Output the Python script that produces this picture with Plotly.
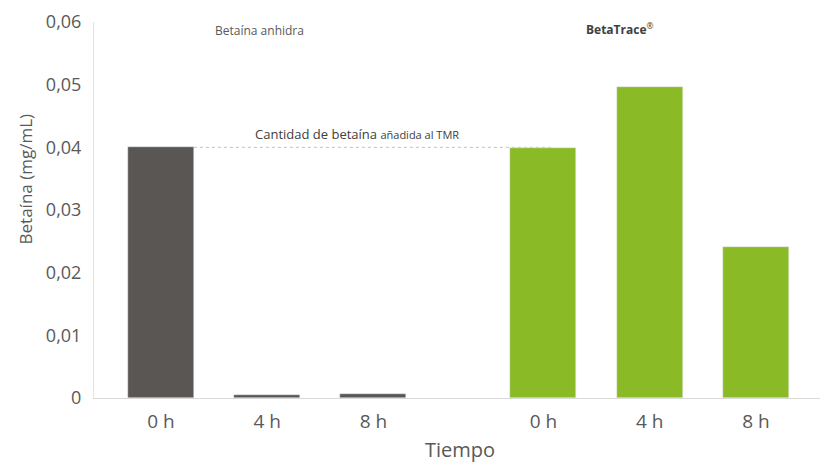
import plotly.graph_objects as go

# Datos
etiquetas = ['0 h', '4 h', '8 h', '0 h', '4 h', '8 h']
pos_anhidra = [0, 1, 2]
pos_betatrace = [3.6, 4.6, 5.6]
betaina_anhidra = [0.040, 0.0005, 0.0007]
betaina_betatrace = [0.0399, 0.0497, 0.0241]
nivel_tmr = 0.04

gris = '#595654'
verde = '#8aba26'
texto = '#595959'

fig = go.Figure()
fig.add_trace(go.Bar(x=pos_anhidra, y=betaina_anhidra, marker_color=gris,
                     width=0.62, name='Betaína anhidra'))
fig.add_trace(go.Bar(x=pos_betatrace, y=betaina_betatrace, marker_color=verde,
                     width=0.62, name='BetaTrace®'))

# línea discontinua: cantidad añadida al TMR
fig.add_shape(type='line', xref='x', yref='y', x0=0.31, x1=3.7, y0=nivel_tmr, y1=nivel_tmr,
              line=dict(color='#c0c0c0', width=1, dash='dot'), layer='below')
fig.add_annotation(x=1.85, y=nivel_tmr, xref='x', yref='y', yshift=13, showarrow=False,
                   text='Cantidad de betaína <span style="font-size:11px">añadida al TMR</span>',
                   font=dict(size=13, color='#404040'))

fig.add_annotation(x=0.93, y=1.0, xref='x', yref='paper', yshift=2, showarrow=False,
                   text='Betaína anhidra', font=dict(size=12, color=texto))
fig.add_annotation(x=4.32, y=1.0, xref='x', yref='paper', yshift=4, showarrow=False,
                   text='<b>BetaTrace</b><sup>®</sup>', font=dict(size=12, color='#404040'))

# título del eje y como anotación (va algo más arriba que el centro)
fig.add_annotation(x=-0.112, y=0.58, xref='paper', yref='paper', showarrow=False,
                   textangle=-90, text='Betaína (mg/mL)', font=dict(size=17, color=texto))

# la página deja 8 px de margen, así que la figura es algo menor que la ventana
fig.update_layout(
    width=820, height=458,
    margin=dict(l=86, r=2, t=14, b=68),
    plot_bgcolor='white', paper_bgcolor='white',
    showlegend=False,
    font=dict(family='Open Sans', color=texto),
    bargap=0,
)
fig.update_xaxes(
    tickmode='array', tickvals=pos_anhidra + pos_betatrace, ticktext=etiquetas,
    range=[-0.63, 6.26], showgrid=False, showline=True, linecolor='#d9d9d9',
    ticks='', tickfont=dict(size=19, color=texto), automargin=False, ticklabelstandoff=6,
    title=dict(text='Tiempo', font=dict(size=20, color=texto), standoff=10),
)
fig.update_yaxes(
    range=[0, 0.06], showgrid=False,
    showline=True, linecolor='#e3e3e3', zeroline=False,
    tickvals=[0, 0.01, 0.02, 0.03, 0.04, 0.05, 0.06],
    ticktext=['0', '0,01', '0,02', '0,03', '0,04', '0,05', '0,06'],
    ticks='', ticklen=0, tickfont=dict(size=18, color=texto), automargin=False,
    ticklabelstandoff=8,
)

fig.write_html('out.html')
